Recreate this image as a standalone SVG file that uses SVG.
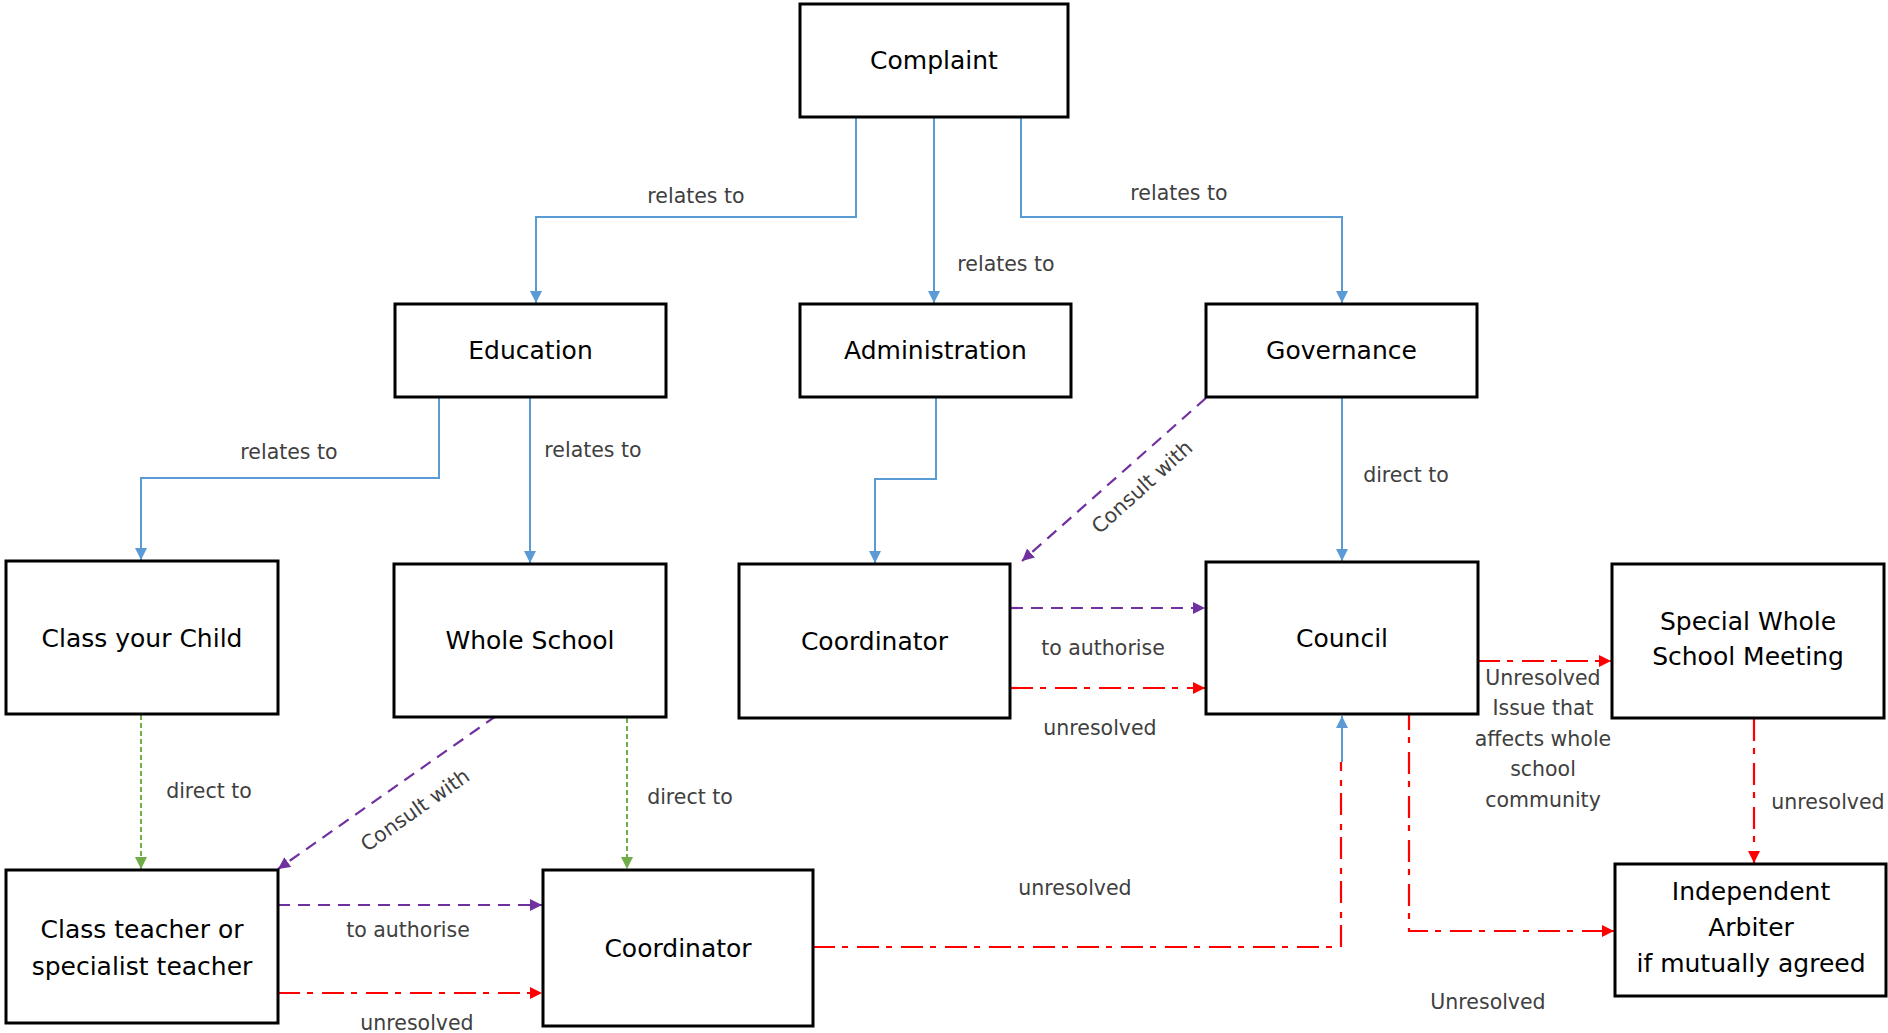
<svg xmlns="http://www.w3.org/2000/svg" width="1888" height="1033" viewBox="0 0 1888 1033">
<style>
.box{fill:#fff;stroke:#000;stroke-width:3}
.nt{font-family:"DejaVu Sans",sans-serif;font-size:25px;fill:#000;text-anchor:middle}
.lb{font-family:"DejaVu Sans",sans-serif;font-size:20.5px;fill:#404040;text-anchor:middle}
.blue{fill:none;stroke:#5B9BD5;stroke-width:2}
.green{fill:none;stroke:#70AD47;stroke-width:2;stroke-dasharray:5,3}
.purple{fill:none;stroke:#7030A0;stroke-width:2.2;stroke-dasharray:12,8}
.red{fill:none;stroke:#FF0000;stroke-width:2.2;stroke-dasharray:22,7,6,9}
</style>
<defs>
<marker id="ab" markerUnits="userSpaceOnUse" markerWidth="12" markerHeight="12" refX="12" refY="6" orient="auto"><path d="M0,0 L12,6 L0,12 z" fill="#5B9BD5"/></marker>
<marker id="ag" markerUnits="userSpaceOnUse" markerWidth="12" markerHeight="12" refX="12" refY="6" orient="auto"><path d="M0,0 L12,6 L0,12 z" fill="#70AD47"/></marker>
<marker id="ap" markerUnits="userSpaceOnUse" markerWidth="12" markerHeight="12" refX="12" refY="6" orient="auto"><path d="M0,0 L12,6 L0,12 z" fill="#7030A0"/></marker>
<marker id="ar" markerUnits="userSpaceOnUse" markerWidth="12" markerHeight="12" refX="12" refY="6" orient="auto"><path d="M0,0 L12,6 L0,12 z" fill="#FF0000"/></marker>
</defs>
<rect width="1888" height="1033" fill="#fff"/>
<g id="connectors">
<path class="blue" d="M856,117 V217 H536 V303" marker-end="url(#ab)"/>
<path class="blue" d="M934,117 V303" marker-end="url(#ab)"/>
<path class="blue" d="M1021,117 V217 H1342 V303" marker-end="url(#ab)"/>
<path class="blue" d="M439,397 V478 H141 V560" marker-end="url(#ab)"/>
<path class="blue" d="M530,397 V563" marker-end="url(#ab)"/>
<path class="blue" d="M936,397 V479 H875 V563" marker-end="url(#ab)"/>
<path class="blue" d="M1342,397 V561" marker-end="url(#ab)"/>
<path class="purple" d="M1206,398 L1022,561" marker-end="url(#ap)"/>
<path class="purple" d="M1011,608 H1205" marker-end="url(#ap)"/>
<path class="red" d="M1011,688 H1205" marker-end="url(#ar)"/>
<path class="red" d="M1478,661 H1611" marker-end="url(#ar)"/>
<path class="red" d="M1409,708 V931 H1614" marker-end="url(#ar)"/>
<path class="red" d="M1754,719 V863" marker-end="url(#ar)"/>
<path class="green" d="M141,715 V869" marker-end="url(#ag)"/>
<path class="green" d="M627,718 V869" marker-end="url(#ag)"/>
<path class="purple" d="M496,716 L278,869" marker-end="url(#ap)"/>
<path class="purple" d="M278,905 H542" marker-end="url(#ap)"/>
<path class="red" d="M278,993 H542" marker-end="url(#ar)"/>
<path class="red" d="M813,947 H1341 V762"/>
<path class="blue" d="M1342,762 V716" marker-end="url(#ab)"/>
<text class="lb" x="696" y="203">relates to</text>
<text class="lb" x="1006" y="271">relates to</text>
<text class="lb" x="1179" y="200">relates to</text>
<text class="lb" x="289" y="459">relates to</text>
<text class="lb" x="593" y="457">relates to</text>
<text class="lb" x="1406" y="482">direct to</text>
<text class="lb" transform="translate(1142,487) rotate(-42)" y="7">Consult with</text>
<text class="lb" x="1103" y="655">to authorise</text>
<text class="lb" x="1100" y="735">unresolved</text>
<text class="lb" x="1543" y="685">Unresolved</text>
<text class="lb" x="1543" y="715">Issue that</text>
<text class="lb" x="1543" y="746">affects whole</text>
<text class="lb" x="1543" y="776">school</text>
<text class="lb" x="1543" y="807">community</text>
<text class="lb" x="1828" y="809">unresolved</text>
<text class="lb" x="1488" y="1009">Unresolved</text>
<text class="lb" x="209" y="798">direct to</text>
<text class="lb" x="690" y="804">direct to</text>
<text class="lb" transform="translate(415,810) rotate(-35)" y="7">Consult with</text>
<text class="lb" x="408" y="937">to authorise</text>
<text class="lb" x="417" y="1030">unresolved</text>
<text class="lb" x="1075" y="895">unresolved</text>
</g>
<g id="complaint"><rect class="box" x="800" y="4" width="268" height="113"/><text class="nt" x="934" y="69">Complaint</text></g>
<g id="education"><rect class="box" x="395" y="304" width="271" height="93"/><text class="nt" x="530.5" y="359">Education</text></g>
<g id="administration"><rect class="box" x="800" y="304" width="271" height="93"/><text class="nt" x="935.5" y="359">Administration</text></g>
<g id="governance"><rect class="box" x="1206" y="304" width="271" height="93"/><text class="nt" x="1341.5" y="359">Governance</text></g>
<g id="class-your-child"><rect class="box" x="6" y="561" width="272" height="153"/><text class="nt" x="142" y="647">Class your Child</text></g>
<g id="whole-school"><rect class="box" x="394" y="564" width="272" height="153"/><text class="nt" x="530" y="649">Whole School</text></g>
<g id="coordinator-upper"><rect class="box" x="739" y="564" width="271" height="154"/><text class="nt" x="874.5" y="650">Coordinator</text></g>
<g id="council"><rect class="box" x="1206" y="562" width="272" height="152"/><text class="nt" x="1342" y="647">Council</text></g>
<g id="special-whole-school-meeting"><rect class="box" x="1612" y="564" width="272" height="154"/><text class="nt" x="1748" y="630">Special Whole</text><text class="nt" x="1748" y="665">School Meeting</text></g>
<g id="independent-arbiter"><rect class="box" x="1615" y="864" width="271" height="132"/><text class="nt" x="1751" y="900">Independent</text><text class="nt" x="1751" y="936">Arbiter</text><text class="nt" x="1751" y="972">if mutually agreed</text></g>
<g id="class-teacher"><rect class="box" x="6" y="870" width="272" height="153"/><text class="nt" x="142" y="938">Class teacher or</text><text class="nt" x="142" y="975">specialist teacher</text></g>
<g id="coordinator-lower"><rect class="box" x="543" y="870" width="270" height="156"/><text class="nt" x="678" y="957">Coordinator</text></g>
</svg>
